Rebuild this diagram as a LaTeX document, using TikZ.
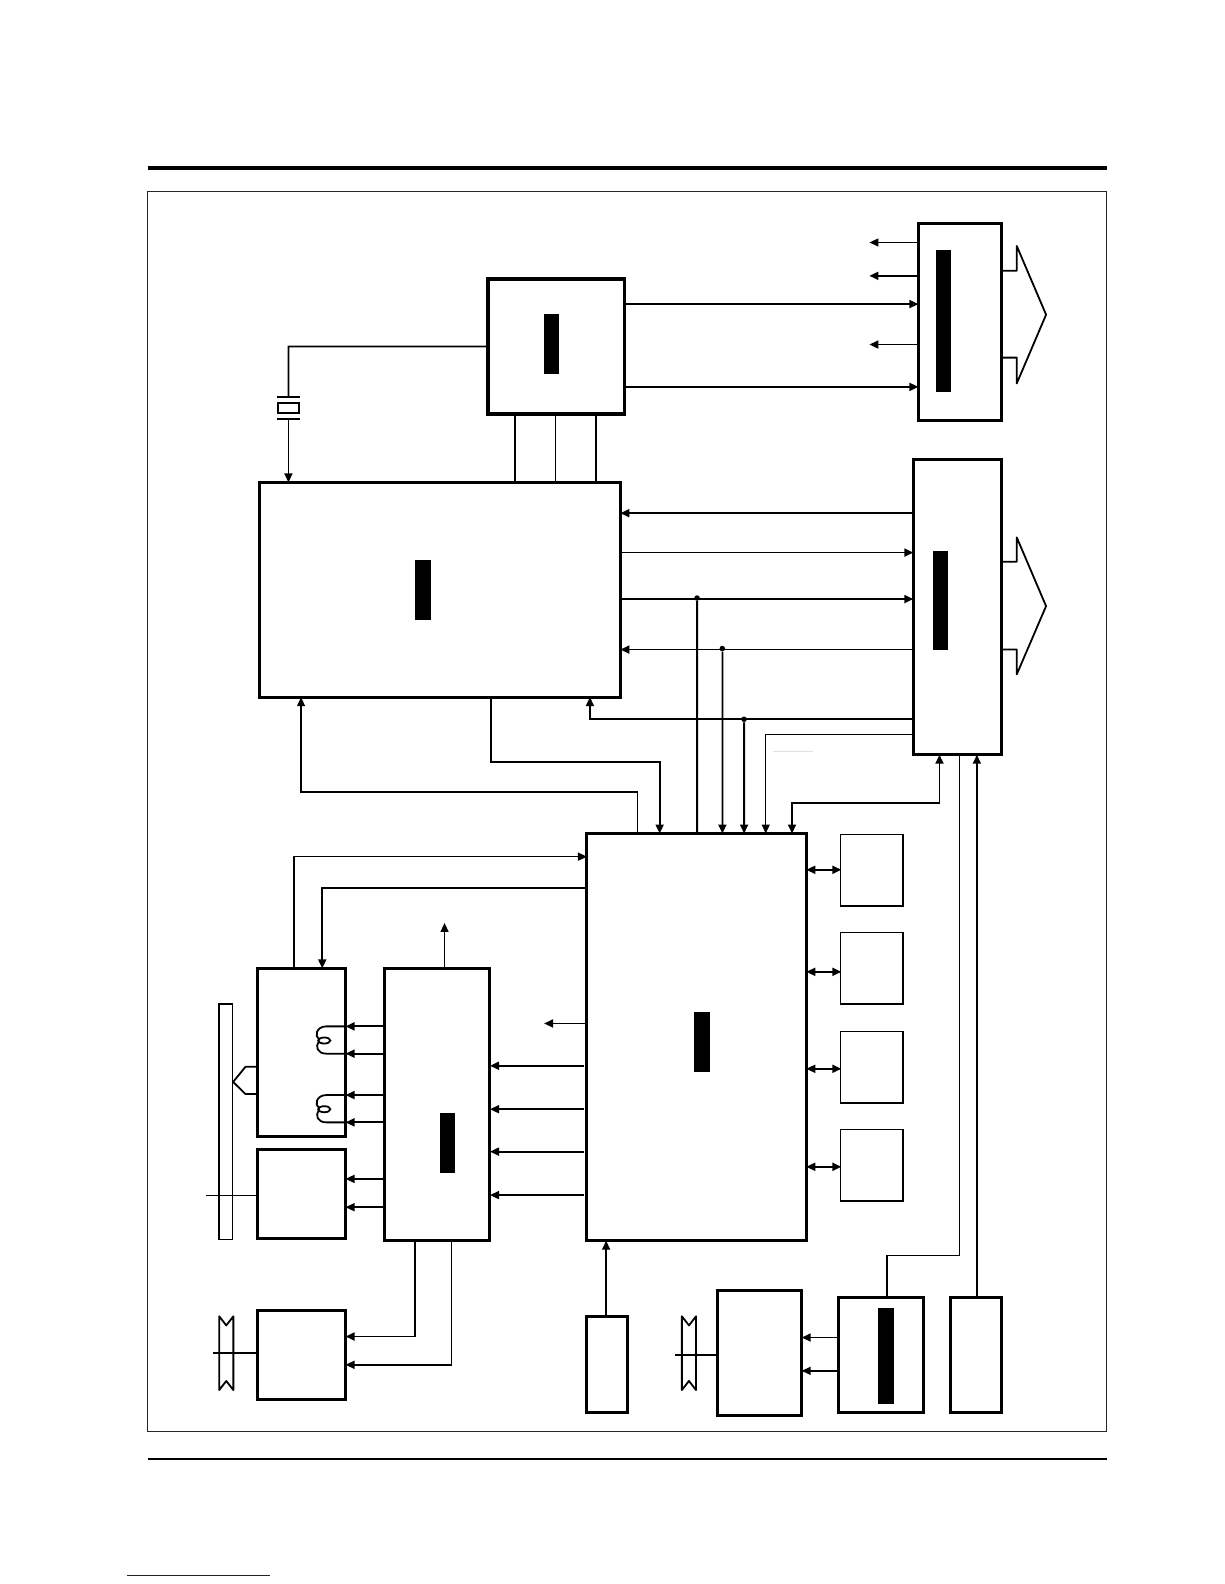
\documentclass[tikz,border=0pt]{standalone}
\usepackage{xcolor}
\usetikzlibrary{arrows.meta,calc,shapes.geometric}
\definecolor{linkblue}{RGB}{20,20,165}
\definecolor{ghostgray}{RGB}{225,225,225}

\begin{document}
\begin{tikzpicture}[
      x=1pt, y=-1pt,
      block/.style={rectangle, draw=black, line width=3pt, inner sep=0pt},
      memcell/.style={rectangle, draw=black, line width=1.5pt, inner sep=0pt,
                      minimum width=62pt, minimum height=71pt},
      bar/.style={rectangle, fill=black, inner sep=0pt, minimum width=15.5pt},
      dot/.style={circle, fill=black, inner sep=0pt, minimum size=5.5pt},
      wire/.style={line width=1.8pt},
      thinwire/.style={line width=1.2pt},
      arrow/.style={-{Triangle[length=9pt,width=8pt]}, line width=1.8pt, shorten >=-1.5pt},
      thinarrow/.style={-{Triangle[length=9pt,width=8pt]}, line width=1.2pt, shorten >=-1.5pt},
      twoway/.style={{Triangle[length=9pt,width=8pt]}-{Triangle[length=9pt,width=8pt]},
                     line width=1.8pt, shorten >=-1.5pt, shorten <=-1.5pt},
      scale=1.0099, transform shape
    ]
      \useasboundingbox (0,0) rectangle (1212,1568);
      %% page furniture
      \node[rectangle, draw=black!85, line width=1pt, inner sep=0pt,
            minimum width=949pt, minimum height=1227pt] (frame) at (621,803.5) {};
      \draw[line width=4pt] (frame.north west |- 0,166) -- (frame.north east |- 0,166);
      \draw[line width=2pt] (frame.south west |- 0,1444) -- (frame.south east |- 0,1444);
      \draw[line width=1.2pt, color=linkblue] (126,1559.5) -- (267,1559.5);
      \draw[line width=0.7pt, color=ghostgray] (765,744) -- (805,744);

      %% blocks
      \node[block, minimum width=82pt, minimum height=195pt] (outa) at (950,318.5) {};
      \node[block, minimum width=87pt, minimum height=292.5pt] (outb) at (947.5,600.75) {};
      \node[block, line width=3.5pt, minimum width=135pt, minimum height=134pt] (clock) at (550.5,343) {};
      \node[block, minimum width=357pt, minimum height=212.5pt] (video) at (435.5,583.75) {};
      \node[block, minimum width=217pt, minimum height=403pt] (cpu) at (689.5,1026.5) {};
      \node[block, minimum width=104.5pt, minimum height=269.5pt] (driver) at (432.75,1093.25) {};
      \node[block, minimum width=87pt, minimum height=166.5pt] (head) at (298.5,1041.75) {};
      \node[block, minimum width=87pt, minimum height=88.5pt] (capstan) at (298.5,1181.75) {};
      \node[block, minimum width=87pt, minimum height=88pt] (drum) at (298.5,1341) {};
      \node[block, minimum width=40.5pt, minimum height=95pt] (keys) at (601.25,1350.5) {};
      \node[block, minimum width=83.5pt, minimum height=124pt] (tuner) at (751.75,1339) {};
      \node[block, minimum width=84pt, minimum height=114pt] (audio) at (872,1341) {};
      \node[block, minimum width=50pt, minimum height=114pt] (power) at (966,1341) {};
      \node[memcell] (mema) at (863,861.5) {};
      \node[memcell] (memb) at (863,958.5) {};
      \node[memcell] (memc) at (863,1056.5) {};
      \node[memcell] (memd) at (863,1153.5) {};
      \node[rectangle, draw=black, line width=1.5pt, inner sep=0pt,
            minimum width=13pt, minimum height=233pt] (tape) at (223.5,1110.5) {};

      %% black label bars
      \node[bar, minimum height=141pt] (baroa) at (934,317.5) {};
      \node[bar, minimum height=98pt] (barob) at (931,594) {};
      \node[bar, minimum height=59pt] (barclk) at (546,340.5) {};
      \node[bar, minimum height=60pt] (barvid) at (419,584) {};
      \node[bar, minimum height=59pt] (barcpu) at (695,1031.5) {};
      \node[bar, minimum height=59pt] (bardrv) at (443,1131.5) {};
      \node[bar, minimum height=95pt] (baraud) at (877,1342.5) {};

      %% clock block to its neighbours
      \draw[arrow] (clock.east |- 0,301) -- (outa.west |- 0,301);
      \draw[arrow] (clock.east |- 0,383) -- (outa.west |- 0,383);
      \draw[wire] (510,0 |- clock.south) -- (510,0 |- video.north);
      \draw[thinwire] (550,0 |- clock.south) -- (550,0 |- video.north);
      \draw[wire] (590,0 |- clock.south) -- (590,0 |- video.north);
      %% crystal
      \coordinate (xtalup) at (285.5,393);
      \coordinate (xtaldown) at (285.5,415);
      \draw[wire] (clock.west |- 0,343) -- (285.5,343) -- (xtalup);
      \draw[arrow] (xtaldown) -- (xtaldown |- video.north);
      \draw[wire] (274.5,393) -- (296.5,393);
      \draw[wire] (274.5,415) -- (296.5,415);
      \draw[wire] (275,399) rectangle (296,409);

      %% free outputs of the upper connector
      \coordinate (freea) at (862,240);
      \coordinate (freeb) at (862,273);
      \coordinate (freec) at (862,341);
      \draw[thinarrow] (outa.west |- freea) -- (freea);
      \draw[arrow] (outa.west |- freeb) -- (freeb);
      \draw[arrow] (outa.west |- freec) -- (freec);

      %% hollow outlets
      \draw[wire, line join=round] (outa.east |- 0,268) -- (1006.5,268) -- (1006.5,243.5)
          -- (1035.5,311.5) -- (1006.5,379.5) -- (1006.5,354) -- (outa.east |- 0,354);
      \draw[wire, line join=round] (outb.east |- 0,556) -- (1006.5,556) -- (1006.5,532)
          -- (1035.5,600) -- (1006.5,667.5) -- (1006.5,643) -- (outb.east |- 0,643);

      %% video block and lower connector
      \node[dot] (tapa) at (690,592) {};
      \node[dot] (tapb) at (715,642) {};
      \node[dot] (tapc) at (736.5,712) {};
      \draw[arrow] (outb.west |- 0,508) -- (video.east |- 0,508);
      \draw[arrow] (video.east |- 0,547) -- (outb.west |- 0,547);
      \draw[arrow] (video.east |- 0,593) -- (outb.west |- 0,593);
      \draw[arrow] (outb.west |- 0,643) -- (video.east |- 0,643);
      \draw[arrow] (outb.west |- 0,712) -- (584,712) -- (584,0 |- video.south);
      \draw[wire] (tapa) -- (tapa |- cpu.north);
      \draw[arrow] (tapb) -- (tapb |- cpu.north);
      \draw[arrow] (tapc) -- (tapc |- cpu.north);
      \draw[thinarrow] (outb.west |- 0,727) -- (758,727) -- (758,0 |- cpu.north);
      \draw[twoway] (930,0 |- outb.south) -- (930,795) -- (784,795) -- (784,0 |- cpu.north);
      \draw[thinwire] (950,0 |- outb.south) -- (950,1243) -- (878,1243) -- (878,0 |- audio.north);
      \draw[arrow] (967,0 |- power.north) -- (967,0 |- outb.south);

      %% video block and cpu
      \draw[arrow] (486,0 |- video.south) -- (486,754) -- (653,754) -- (653,0 |- cpu.north);
      \draw[thinarrow] (631,0 |- cpu.north) -- (631,784) -- (298,784) -- (298,0 |- video.south);

      %% cpu and its memories
      \draw[twoway] (cpu.east |- 0,861) -- (mema.west |- 0,861);
      \draw[twoway] (cpu.east |- 0,962) -- (memb.west |- 0,962);
      \draw[twoway] (cpu.east |- 0,1058) -- (memc.west |- 0,1058);
      \draw[twoway] (cpu.east |- 0,1155) -- (memd.west |- 0,1155);

      %% left side of the cpu
      \draw[thinarrow] (291,0 |- head.north) -- (291,848) -- (cpu.west |- 0,848);
      \draw[arrow] (cpu.west |- 0,879) -- (319,879) -- (319,0 |- head.north);
      \coordinate (freed) at (440,915);
      \coordinate (freee) at (540,1013);
      \draw[thinarrow] (freed |- driver.north) -- (freed);
      \draw[arrow] (cpu.west |- freee) -- (freee);
      \draw[arrow] (578,1055) -- (driver.east |- 0,1055);
      \draw[arrow] (578,1098) -- (driver.east |- 0,1098);
      \draw[arrow] (578,1140) -- (driver.east |- 0,1140);
      \draw[arrow] (578,1183) -- (driver.east |- 0,1183);
      \draw[arrow] (600,0 |- keys.north) -- (600,0 |- cpu.south);

      %% driver outputs and coils
      \draw[arrow] (driver.west |- 0,1016) -- (head.east |- 0,1016);
      \draw[arrow] (driver.west |- 0,1043) -- (head.east |- 0,1043);
      \draw[arrow] (driver.west |- 0,1084) -- (head.east |- 0,1084);
      \draw[arrow] (driver.west |- 0,1111) -- (head.east |- 0,1111);
      \draw[arrow] (driver.west |- 0,1167) -- (capstan.east |- 0,1167);
      \draw[arrow] (driver.west |- 0,1195) -- (capstan.east |- 0,1195);
      \foreach \coily in {1016,1084} {
        \draw[wire] (head.east |- 0,\coily) -- (323,\coily)
            .. controls (313,\coily) and (311,\coily+10) .. (316,\coily+13);
        \draw[wire] (321,\coily+14) ellipse [x radius=6, y radius=3];
        \draw[wire] (315.5,\coily+15)
            .. controls (312,\coily+20) and (314,\coily+27) .. (323,\coily+27)
            -- (head.east |- 0,\coily+27);
      }
      \draw[arrow] (411,0 |- driver.south) -- (411,1323) -- (drum.east |- 0,1323);
      \draw[arrow] (447,0 |- driver.south) -- (447,1351) -- (drum.east |- 0,1351);
      \draw[arrow] (audio.west |- 0,1324) -- (tuner.east |- 0,1324);
      \draw[arrow] (audio.west |- 0,1357) -- (tuner.east |- 0,1357);

      %% tape guide and pulleys
      \draw[wire, line join=round] (head.west |- 0,1056) -- (243,1056) -- (tape.east |- 0,1071)
          -- (243,1083) -- (head.west |- 0,1083);
      \coordinate (freef) at (204,1183);
      \coordinate (freeg) at (211,1339);
      \coordinate (freeh) at (668,1341);
      \draw[thinwire] (capstan.west |- freef) -- (freef);
      \draw[wire] (drum.west |- freeg) -- (freeg);
      \draw[wire] (tuner.west |- freeh) -- (freeh);
      \foreach \beltx in {217,675} {
        \draw[wire, line join=round] (\beltx,1303) -- (\beltx+7,1312) -- (\beltx+14,1303)
            -- (\beltx+14,1376) -- (\beltx+7,1367) -- (\beltx,1376) -- cycle;
      }
    \end{tikzpicture}
\end{document}
